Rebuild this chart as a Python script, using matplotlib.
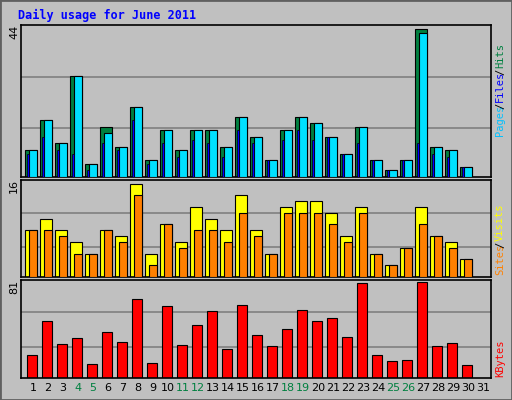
import matplotlib
matplotlib.use("Agg")
import matplotlib.pyplot as plt
import numpy as np

days = list(range(1, 31))
hits = [8,17,10,30,4,15,9,21,5,14,8,14,14,9,18,12,5,14,18,16,12,7,15,5,2,5,44,9,8,3]
files = [8,17,10,30,4,13,9,21,5,14,8,14,14,9,18,12,5,14,18,16,12,7,15,5,2,5,43,9,8,3]
pages = [7,12,8,7,2,10,8,17,4,10,6,11,10,6,14,10,5,11,14,11,12,7,10,5,2,5,10,7,6,3]
visits = [8,10,8,6,4,8,7,16,4,9,6,12,10,8,14,8,4,12,13,13,11,7,12,4,2,5,12,7,6,3]
sites = [8,8,7,4,4,8,6,14,2,9,5,8,8,6,11,7,4,11,11,11,9,6,11,4,2,5,9,7,5,3]
kbytes = [19.6,48,28.5,33.8,11.6,39,30,66.8,12.5,60.5,27.6,44.5,56,24,61.4,36.5,26.7,41,57,48,50.8,34.7,80,19.6,14.2,15.1,81,26.7,29.4,10.7]
tick_days = list(range(1, 32))
weekends = [4,5,11,12,18,19,25,26]

W, H = 512, 400
bg = "#C0C0C0"
fig = plt.figure(figsize=(W/100, H/100), dpi=100, facecolor=bg)
mono = "DejaVu Sans Mono"

def ax_px(x0, y0, x1, y1):
    return fig.add_axes([x0/W, 1-y1/H, (x1-x0)/W, (y1-y0)/H])

x = np.array(days)
xlim = (0.2, 31.53)
ec = "black"

def style(ax, top, grids):
    ax.set_facecolor(bg)
    ax.set_xlim(*xlim)
    ax.set_ylim(0, top)
    ax.set_xticks([]); ax.set_yticks([])
    for g in grids:
        ax.axhline(g, color="#808080", lw=1.2, zorder=0)
    for s in ax.spines.values():
        s.set_color("black"); s.set_linewidth(1.2)

ax1 = ax_px(21, 25, 491, 177)
style(ax1, 45.3, [14.7, 29.9])
ax1.bar(x-0.53, hits, width=0.77, align="edge", color="#008040", edgecolor=ec, lw=0.8, zorder=2)
ax1.bar(x-0.25, files, width=0.49, align="edge", color="#00E0FF", edgecolor=ec, lw=0.8, zorder=3)
ax1.bar(x-0.4, pages, width=0.15, align="edge", color="#0000FF", edgecolor=ec, lw=0.5, zorder=4)

ax2 = ax_px(21, 180, 491, 277)
style(ax2, 16.6, [5.2, 11.0])
ax2.bar(x-0.53, visits, width=0.77, align="edge", color="#FFFF00", edgecolor=ec, lw=0.8, zorder=2)
ax2.bar(x-0.25, sites, width=0.49, align="edge", color="#FF8000", edgecolor=ec, lw=0.8, zorder=3)

ax3 = ax_px(21, 280, 491, 378)
style(ax3, 82.5, [25.8, 55.2])
ax3.bar(x-0.42, kbytes, width=0.66, align="edge", color="#FF0000", edgecolor=ec, lw=0.8, zorder=2)

for d in tick_days:
    px = 33 + 15*(d-1)
    fig.text(px/W, 1-388/H, str(d), ha="center", va="center", fontsize=8,
             color="#008040" if d in weekends else "black")

fig.text(18/W, 1-15/H, "Daily usage for June 2011", fontsize=8.5, fontweight="bold",
         family=mono, color="#0000FF", va="center", ha="left")

for val, yc in [("44", 32), ("16", 186), ("81", 287)]:
    fig.text(14/W, 1-yc/H, val, rotation=90, fontsize=8, ha="center", va="center")

def vlabel(parts, ybottom):
    y = ybottom
    for txt, col in parts:
        fig.text(500/W, 1-y/H, txt, rotation=90, fontsize=7.5, family=mono,
                 color=col, ha="center", va="bottom")
        y -= len(txt)*5.0 + 2

vlabel([("Pages", "#00C0FF"), ("/", "black"), ("Files", "#0000FF"), ("/", "black"), ("Hits", "#008040")], 136)
vlabel([("Sites", "#FF8000"), ("/", "black"), ("Visits", "#FFFF00")], 275)
vlabel([("KBytes", "#FF0000")], 377)

fig.add_artist(plt.Rectangle((0, 0), 1, 1, transform=fig.transFigure, fill=False,
                             edgecolor="#606060", lw=2))
fig.savefig("out.png", dpi=100, facecolor=bg)
